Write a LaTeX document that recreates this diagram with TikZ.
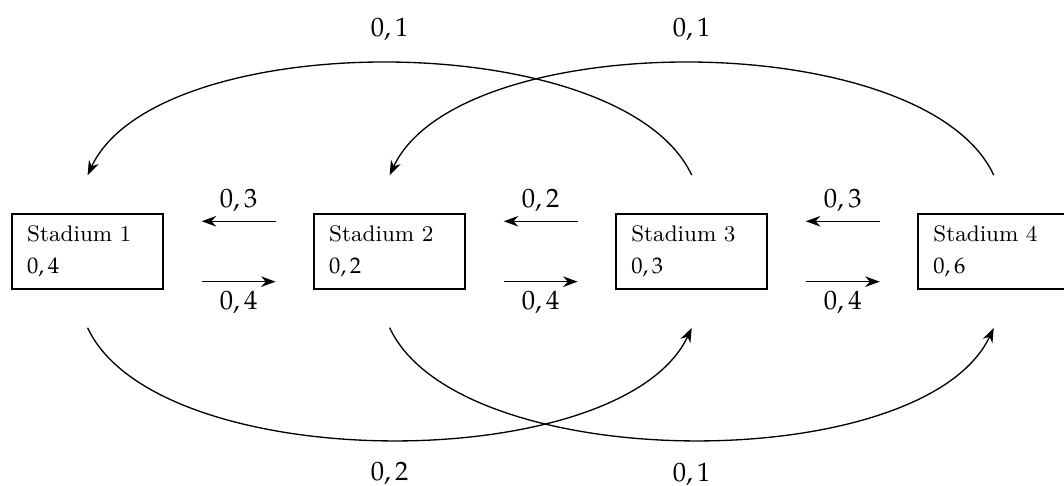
\documentclass[tikz,border=0pt]{standalone}
\usepackage{mathpazo}
\usetikzlibrary{arrows.meta}

\begin{document}
\begin{tikzpicture}[>={Stealth[length=5.5pt,width=4pt,inset=1.8pt]}, line width=.5pt,
        stadion/.style={draw, line width=.6pt, rectangle, minimum width=2cm, minimum height=1cm,
          text width=1.6cm, align=left, font=\fontsize{8.5}{10}\selectfont}]

          \useasboundingbox (-1.16,-3.10) rectangle (12.93,3.33);

          \node[stadion] (s1) at (0,0) {Stadium 1\\[2pt] $0,4$};
          \node[stadion] (s2) at (4,0) {Stadium 2\\[2pt] $0,2$};
          \node[stadion] (s3) at (8,0) {Stadium 3\\[2pt] $0,3$};
          \node[stadion] (s4) at (12,0) {Stadium 4\\[2pt] $0,6$};

          % naar links en naar rechts
          \draw[->] ([xshift=-.5cm,yshift=.4cm]s2.west) -- ([xshift=.5cm,yshift=.4cm]s1.east) node[midway,above]{$0,3$};
          \draw[->] ([xshift=.5cm,yshift=-.4cm]s1.east) -- ([xshift=-.5cm,yshift=-.4cm]s2.west) node[midway,below]{$0,4$};
          \draw[->] ([xshift=-.5cm,yshift=.4cm]s3.west) -- ([xshift=.5cm,yshift=.4cm]s2.east) node[midway,above]{$0,2$};
          \draw[->] ([xshift=.5cm,yshift=-.4cm]s2.east) -- ([xshift=-.5cm,yshift=-.4cm]s3.west) node[midway,below]{$0,4$};
          \draw[->] ([xshift=-.5cm,yshift=.4cm]s4.west) -- ([xshift=.5cm,yshift=.4cm]s3.east) node[midway,above]{$0,3$};
          \draw[->] ([xshift=.5cm,yshift=-.4cm]s3.east) -- ([xshift=-.5cm,yshift=-.4cm]s4.west) node[midway,below]{$0,4$};

          % twee stappen
          \draw[->] ([yshift=.5cm]s3.north) to[out=115,in=65,looseness=.7] node[midway,above=5pt]{$0,1$} ([yshift=.5cm]s1.north);
          \draw[->] ([yshift=.5cm]s4.north) to[out=115,in=65,looseness=.7] node[midway,above=5pt]{$0,1$} ([yshift=.5cm]s2.north);
          \draw[->] ([yshift=-.5cm]s1.south) to[out=-65,in=-115,looseness=.7] node[midway,below=5pt]{$0,2$} ([yshift=-.5cm]s3.south);
          \draw[->] ([yshift=-.5cm]s2.south) to[out=-65,in=-115,looseness=.7] node[midway,below=5pt]{$0,1$} ([yshift=-.5cm]s4.south);

        \end{tikzpicture}
\end{document}
